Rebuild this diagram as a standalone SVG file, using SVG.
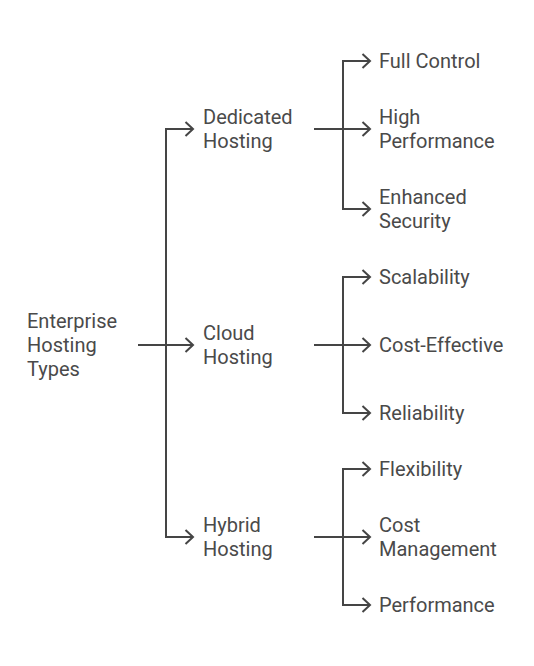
<svg xmlns="http://www.w3.org/2000/svg" width="534" height="666" viewBox="0 0 534 666">
<defs>
<marker id="arr" viewBox="0 0 18 18" refX="16" refY="9" markerWidth="18" markerHeight="18" markerUnits="userSpaceOnUse" orient="auto">
<path d="M8.5,2 L16,9 L8.5,16" fill="none" stroke="#454545" stroke-width="2"/>
</marker>
<style>
text{font-family:Roboto,"Liberation Sans",sans-serif;font-size:20px;fill:#4a4a4a}
.c{fill:none;stroke:#454545;stroke-width:2}
</style>
</defs>
<rect width="534" height="666" fill="#fff"/>
<g id="connectors">
<path class="c" d="M138,345 H166"/>
<path class="c" d="M166,345 V129 H193" marker-end="url(#arr)"/>
<path class="c" d="M166,345 H193" marker-end="url(#arr)"/>
<path class="c" d="M166,345 V537 H193" marker-end="url(#arr)"/>
<path class="c" d="M314,129 H343"/>
<path class="c" d="M343,129 V61 H370" marker-end="url(#arr)"/>
<path class="c" d="M343,129 H370" marker-end="url(#arr)"/>
<path class="c" d="M343,129 V209 H370" marker-end="url(#arr)"/>
<path class="c" d="M314,345 H343"/>
<path class="c" d="M343,345 V277 H370" marker-end="url(#arr)"/>
<path class="c" d="M343,345 H370" marker-end="url(#arr)"/>
<path class="c" d="M343,345 V413 H370" marker-end="url(#arr)"/>
<path class="c" d="M314,537 H343"/>
<path class="c" d="M343,537 V469 H370" marker-end="url(#arr)"/>
<path class="c" d="M343,537 H370" marker-end="url(#arr)"/>
<path class="c" d="M343,537 V605 H370" marker-end="url(#arr)"/>
</g>
<g id="root"><text x="27" y="328">Enterprise</text><text x="27" y="352">Hosting</text><text x="27" y="376">Types</text></g>
<g id="dedicated"><text x="203" y="124">Dedicated</text><text x="203" y="148">Hosting</text></g>
<g id="cloud"><text x="203" y="340">Cloud</text><text x="203" y="364">Hosting</text></g>
<g id="hybrid"><text x="203" y="532">Hybrid</text><text x="203" y="556">Hosting</text></g>
<g id="full-control"><text x="379" y="68">Full Control</text></g>
<g id="high-performance"><text x="379" y="124">High</text><text x="379" y="148">Performance</text></g>
<g id="enhanced-security"><text x="379" y="204">Enhanced</text><text x="379" y="228">Security</text></g>
<g id="scalability"><text x="379" y="284">Scalability</text></g>
<g id="cost-effective"><text x="379" y="352">Cost-Effective</text></g>
<g id="reliability"><text x="379" y="420">Reliability</text></g>
<g id="flexibility"><text x="379" y="476">Flexibility</text></g>
<g id="cost-management"><text x="379" y="532">Cost</text><text x="379" y="556">Management</text></g>
<g id="performance"><text x="379" y="612">Performance</text></g>
</svg>
